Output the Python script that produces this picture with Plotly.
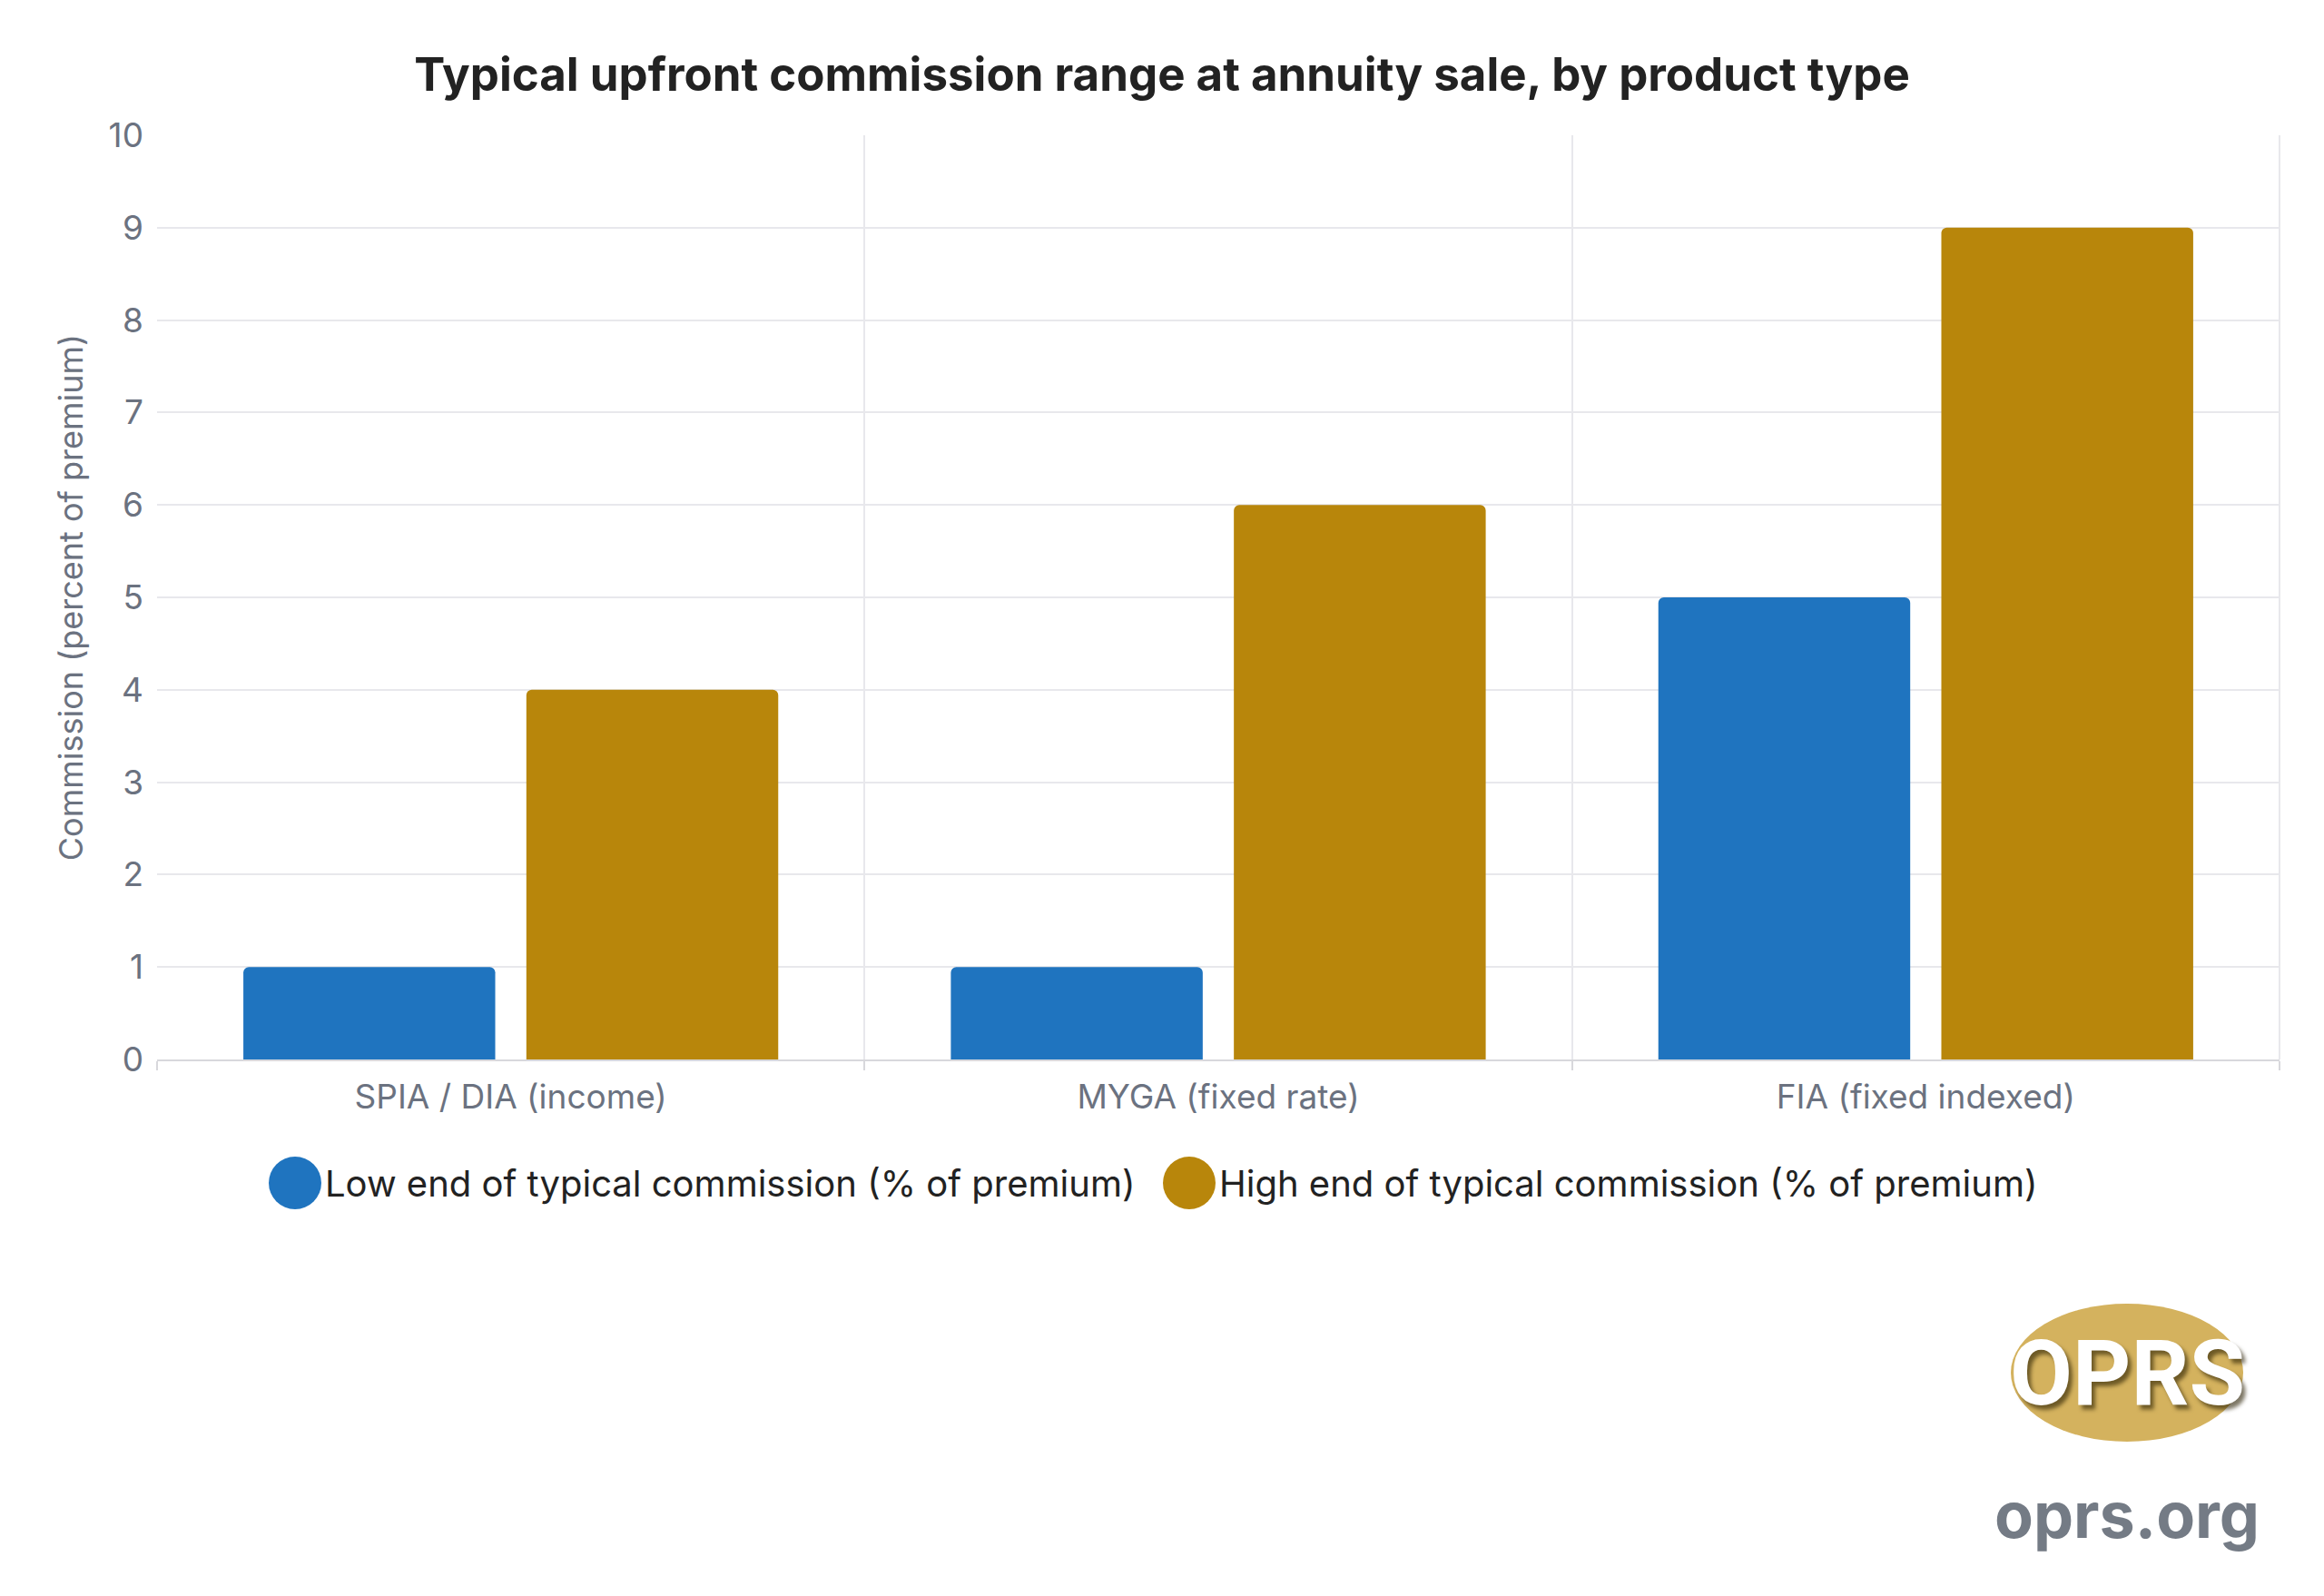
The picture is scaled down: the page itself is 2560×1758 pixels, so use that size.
import plotly.graph_objects as go

categories = ["SPIA / DIA (income)", "MYGA (fixed rate)", "FIA (fixed indexed)"]
low_end = [1, 1, 5]
high_end = [4, 6, 9]
series_names = ["Low end of typical commission (% of premium)",
                "High end of typical commission (% of premium)"]
colors = ["#1f74bf", "#b8860b"]
yticks = list(range(0, 11))

W, H = 2560, 1758
ML, MR, MT, MB = 165, 57, 141, 599
PW, PH = W - ML - MR, H - MT - MB


def px(x):
    return (x - ML) / PW


def py(y):
    return (H - MB - y) / PH


fig = go.Figure()
for name, vals, c in zip(series_names, [low_end, high_end], colors):
    fig.add_trace(go.Bar(x=categories, y=vals, name=name, marker=dict(color=c, cornerradius=6,
                         line=dict(width=0)), showlegend=False))

fig.update_layout(
    width=W, height=H, paper_bgcolor="white", plot_bgcolor="white",
    font=dict(family="Inter", color="#6b7280"),
    margin=dict(l=ML, r=MR, t=MT, b=MB),
    barmode="group", bargap=0.2, bargroupgap=0.11,
    title=dict(text="<b>Typical upfront commission range at annuity sale, by product type</b>",
               x=(W / 2 - 8) / W, xanchor="center", y=1 - 74 / H, yanchor="middle",
               font=dict(size=51, color="#222222", family="Inter")),
    xaxis=dict(tickson="boundaries", showgrid=True, gridcolor="#e8e8ec", gridwidth=2,
               ticks="outside", ticklen=10, tickcolor="#d8d8dc", tickwidth=2,
               showline=True, linecolor="#d8d8dc", linewidth=2, automargin=False,
               ticklabelstandoff=8,
               tickfont=dict(size=37, color="#6b7280")),
    yaxis=dict(range=[0, 10], tickvals=yticks, showgrid=True, gridcolor="#e8e8ec", gridwidth=2,
               zeroline=False, tickfont=dict(size=37, color="#6b7280"), automargin=False,
               ticklabelstandoff=14,
               title=dict(text="Commission (percent of premium)", font=dict(size=36, color="#6b7280"),
                          standoff=16)),
)
fig.add_shape(type="line", xref="paper", yref="paper", x0=1, x1=1, y0=0, y1=1,
              line=dict(color="#e8e8ec", width=2))

leg_y = py(1295)
for cx, tx, c, name in [(317, 348, colors[0], series_names[0]), (1302, 1333, colors[1], series_names[1])]:
    fig.add_shape(type="circle", xref="paper", yref="paper", xsizemode="pixel", ysizemode="pixel",
                  xanchor=px(cx), yanchor=leg_y, x0=-29, x1=29, y0=-29, y1=29,
                  fillcolor=c, line=dict(width=0))
    fig.add_annotation(xref="paper", yref="paper", x=px(tx), y=leg_y, xanchor="left", yanchor="middle",
                       text=name, showarrow=False, font=dict(size=40, color="#222222", family="Inter"))

lx, ly = px(2335), py(1504)
fig.add_shape(type="circle", xref="paper", yref="paper", xsizemode="pixel", ysizemode="pixel",
              xanchor=lx, yanchor=ly, x0=-128, x1=128, y0=-76, y1=76,
              fillcolor="#d4b25e", line=dict(width=0))
fig.add_annotation(xref="paper", yref="paper", x=lx, y=ly, text="<b>OPRS</b>", showarrow=False,
                   font=dict(size=100, color="white", family="Roboto",
                             shadow="4px 5px 4px rgba(40,30,0,0.6)"),
                   xanchor="center", yanchor="middle")
fig.add_annotation(xref="paper", yref="paper", x=lx, y=py(1660), text="<b>oprs.org</b>", showarrow=False,
                   font=dict(size=70, color="#747b85", family="Inter"),
                   xanchor="center", yanchor="middle")

fig.write_html("out.html")
